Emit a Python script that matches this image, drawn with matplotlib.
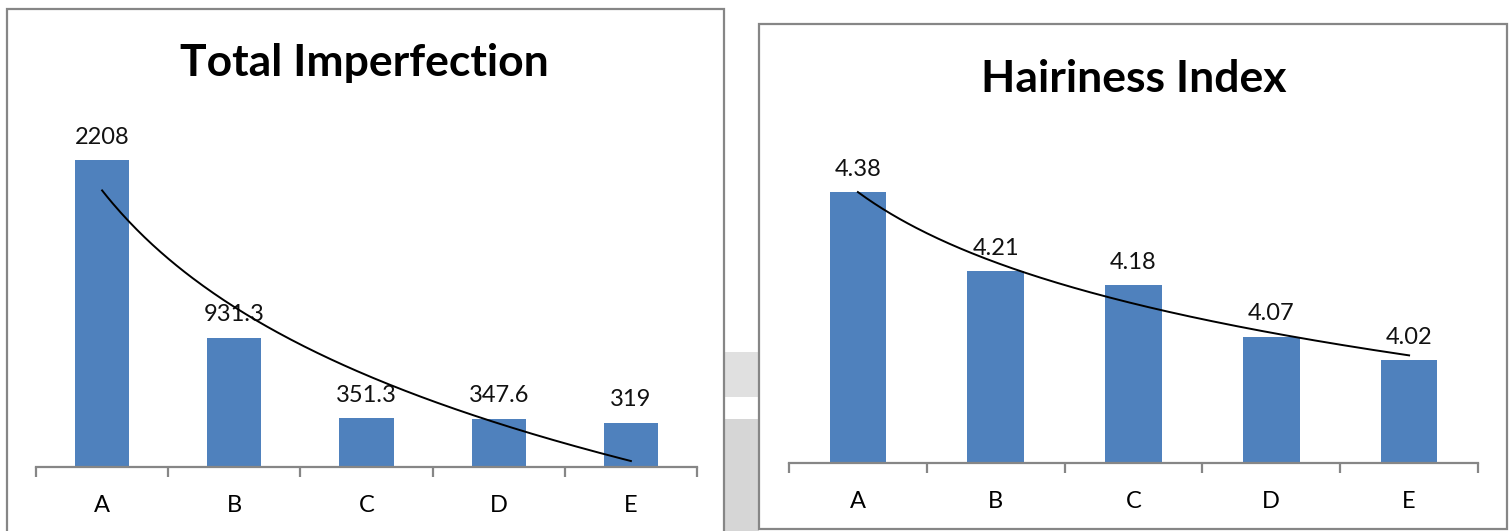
import numpy as np
import matplotlib.pyplot as plt
from matplotlib.patches import Rectangle

plt.rcParams['font.family'] = ['Lato', 'DejaVu Sans']

categories = ['A', 'B', 'C', 'D', 'E']
imperfection = [2208, 931.3, 351.3, 347.6, 319]
imperfection_labels = ['2208', '931.3', '351.3', '347.6', '319']
hairiness = [4.38, 4.21, 4.18, 4.07, 4.02]
hairiness_labels = ['4.38', '4.21', '4.18', '4.07', '4.02']

W, H = 1512, 531
BAR = '#4F81BD'
GREY = '#868686'

fig = plt.figure(figsize=(W / 100, H / 100), dpi=100)


def px_axes(x0, x1, y_top, y_bottom):
    # pixel box (origin top-left) -> figure fraction axes
    return fig.add_axes([x0 / W, 1 - y_bottom / H, (x1 - x0) / W, (y_bottom - y_top) / H])


def frame(x0, y0, x1, y1):
    fig.patches.append(Rectangle((x0 / W, 1 - y1 / H), (x1 - x0) / W, (y1 - y0) / H,
                                 transform=fig.transFigure, fill=False,
                                 edgecolor=GREY, linewidth=1.6))


# grey strips showing between the two chart frames
fig.patches.append(Rectangle((724 / W, 1 - 397 / H), 35 / W, 45 / H, transform=fig.transFigure,
                             facecolor='#e0e0e0', edgecolor='none'))
fig.patches.append(Rectangle((724 / W, 0), 35 / W, 112 / H, transform=fig.transFigure,
                             facecolor='#d6d6d6', edgecolor='none'))

frame(7, 9, 724, 535)
frame(759, 24, 1507, 529)


def bar_chart(ax, values, labels, ylim, title, title_xy):
    x = np.arange(len(values))
    ax.bar(x, values, width=0.41, color=BAR, zorder=2)
    for xi, v, lab in zip(x, values, labels):
        ax.annotate(lab, (xi, v), xytext=(0, 9), textcoords='offset points',
                    ha='center', va='bottom', fontsize=17, color='#111111')

    # logarithmic trend line fitted to the series
    xs = np.arange(1, len(values) + 1)
    b, a = np.polyfit(np.log(xs), values, 1)
    t = np.linspace(1, len(values), 200)
    ax.plot(t - 1, a + b * np.log(t), color='black', linewidth=1.4, zorder=3)

    ax.set_xlim(-0.5, len(values) - 0.5)
    ax.set_ylim(*ylim)
    for s in ('top', 'right', 'left'):
        ax.spines[s].set_visible(False)
    ax.spines['bottom'].set_color(GREY)
    ax.spines['bottom'].set_linewidth(1.6)
    ax.set_yticks([])
    ax.set_xticks(x)
    ax.set_xticklabels(categories, fontsize=17)
    ax.tick_params(axis='x', which='major', length=0, pad=20)
    ax.set_xticks(np.arange(-0.5, len(values)), minor=True)
    ax.tick_params(axis='x', which='minor', length=7, width=1.6, color=GREY, direction='out')
    ax.patch.set_alpha(0)

    fig.text(title_xy[0] / W, 1 - title_xy[1] / H, title, ha='center', va='baseline',
             fontsize=32, fontweight='bold')


ax1 = px_axes(36, 697, 120, 467)
bar_chart(ax1, imperfection, imperfection_labels, (0, 2496), 'Total Imperfection', (364, 76))

ax2 = px_axes(789, 1478, 136, 463)
bar_chart(ax2, hairiness, hairiness_labels, (3.8, 4.5), 'Hairiness Index', (1134, 92))

fig.savefig('out.png', dpi=100)
